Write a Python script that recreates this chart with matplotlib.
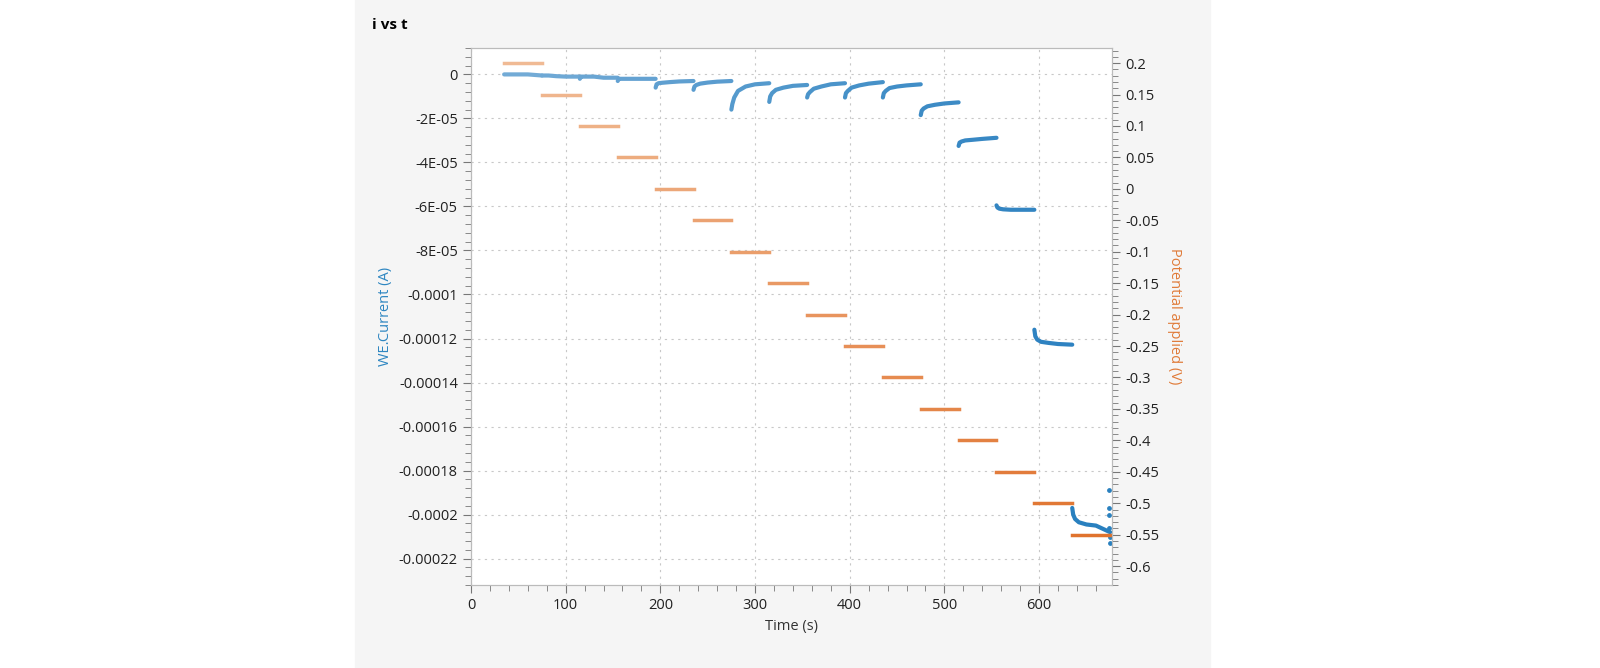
import matplotlib.pyplot as plt
import matplotlib.patches as mpatches
from matplotlib.ticker import MultipleLocator, FixedLocator
import numpy as np

# step start times (s), each step lasts 40 s
STEP_STARTS = [35, 75, 115, 155, 195, 235, 275, 315, 355, 395, 435, 475, 515, 555, 595, 635]
POTENTIALS = [0.2, 0.15, 0.1, 0.05, 0.0, -0.05, -0.1, -0.15, -0.2, -0.25, -0.3, -0.35, -0.4, -0.45, -0.5, -0.55]
# current samples (A) at offsets within each step
SAMPLE_OFFSETS = [0, 1, 3, 7, 15, 25, 40]
CURRENT_STEPS = [
    [0.0, 0.0, 0.0, 0.0, 0.0, 0.0, -0.05e-5],
    [-0.05e-5, -0.05e-5, -0.05e-5, -0.05e-5, -0.08e-5, -0.1e-5, -0.1e-5],
    [-0.2e-5, -0.1e-5, -0.1e-5, -0.1e-5, -0.1e-5, -0.15e-5, -0.15e-5],
    [-0.3e-5, -0.2e-5, -0.2e-5, -0.2e-5, -0.2e-5, -0.2e-5, -0.2e-5],
    [-0.6e-5, -0.45e-5, -0.4e-5, -0.38e-5, -0.35e-5, -0.32e-5, -0.3e-5],
    [-0.7e-5, -0.55e-5, -0.48e-5, -0.42e-5, -0.37e-5, -0.33e-5, -0.3e-5],
    [-1.6e-5, -1.35e-5, -1.05e-5, -0.75e-5, -0.55e-5, -0.45e-5, -0.4e-5],
    [-1.25e-5, -1.0e-5, -0.85e-5, -0.7e-5, -0.6e-5, -0.52e-5, -0.48e-5],
    [-1.05e-5, -0.9e-5, -0.8e-5, -0.65e-5, -0.55e-5, -0.45e-5, -0.4e-5],
    [-1.05e-5, -0.85e-5, -0.75e-5, -0.6e-5, -0.5e-5, -0.42e-5, -0.35e-5],
    [-1.05e-5, -0.85e-5, -0.75e-5, -0.62e-5, -0.55e-5, -0.5e-5, -0.45e-5],
    [-1.85e-5, -1.65e-5, -1.55e-5, -1.45e-5, -1.38e-5, -1.32e-5, -1.27e-5],
    [-3.25e-5, -3.1e-5, -3.05e-5, -3.0e-5, -2.97e-5, -2.93e-5, -2.88e-5],
    [-5.95e-5, -6.05e-5, -6.1e-5, -6.13e-5, -6.15e-5, -6.15e-5, -6.15e-5],
    [-1.16e-4, -1.19e-4, -1.205e-4, -1.215e-4, -1.22e-4, -1.225e-4, -1.228e-4],
    [-1.97e-4, -2.0e-4, -2.02e-4, -2.035e-4, -2.045e-4, -2.05e-4, -2.08e-4],
]
# scattered points at the end of the run
END_T = [674, 674, 674, 674, 675, 675]
END_I = [-1.89e-4, -1.97e-4, -2.0e-4, -2.06e-4, -2.1e-4, -2.13e-4]

LEFT_TICKS = [0, -2e-5, -4e-5, -6e-5, -8e-5, -1e-4, -1.2e-4, -1.4e-4, -1.6e-4, -1.8e-4, -2e-4, -2.2e-4]
LEFT_LABELS = ["0", "-2E-05", "-4E-05", "-6E-05", "-8E-05", "-0.0001", "-0.00012",
               "-0.00014", "-0.00016", "-0.00018", "-0.0002", "-0.00022"]
RIGHT_TICKS = [0.2, 0.15, 0.1, 0.05, 0.0, -0.05, -0.1, -0.15, -0.2, -0.25, -0.3, -0.35,
               -0.4, -0.45, -0.5, -0.55, -0.6]

plt.rcParams["font.family"] = "Open Sans"
fig = plt.figure(figsize=(16, 6.68), dpi=100)
fig.patches.append(mpatches.Rectangle((355 / 1600, 0), 855 / 1600, 1, transform=fig.transFigure,
                                      color="#f5f5f5", zorder=-5))
fig.text(372 / 1600, 1 - 25 / 668, "i vs t", fontsize=11, fontweight="bold", va="center")

ax = fig.add_axes([471 / 1600, 83 / 668, 641 / 1600, 537 / 668])
ax.set_facecolor("white")
ax2 = ax.twinx()

blue_a, blue_b = np.array([0.45, 0.67, 0.84]), np.array([0.16, 0.50, 0.75])
orange_a, orange_b = np.array([0.94, 0.73, 0.58]), np.array([0.88, 0.45, 0.18])
n = len(STEP_STARTS)
for k, t0 in enumerate(STEP_STARTS):
    f = k / (n - 1)
    t = [t0 + o for o in SAMPLE_OFFSETS]
    ax2.plot(t, [c * 0 for c in t], alpha=0)  # keep ax2 x range shared
    ax2.plot([t0, t0 + 40], [POTENTIALS[k]] * 2, color=orange_a + (orange_b - orange_a) * f,
             lw=2.5, zorder=2)
    ax.plot(t, CURRENT_STEPS[k], color=blue_a + (blue_b - blue_a) * f, lw=3,
            solid_capstyle="round", zorder=3)
ax.scatter(END_T, END_I, s=6, color=blue_b, zorder=3)

ax.set_xlim(0, 677)
ax.set_ylim(-2.32e-4, 1.2e-5)
ax2.set_ylim(-0.63, 0.224)
ax.set_yticks(LEFT_TICKS)
ax.set_yticklabels(LEFT_LABELS)
ax.yaxis.set_minor_locator(MultipleLocator(0.4e-5))
ax.xaxis.set_major_locator(MultipleLocator(100))
ax.xaxis.set_minor_locator(MultipleLocator(20))
ax2.yaxis.set_major_locator(FixedLocator(RIGHT_TICKS))
ax2.set_yticklabels([f"{v:g}" for v in RIGHT_TICKS])
ax2.yaxis.set_minor_locator(MultipleLocator(0.01))

ax.grid(True, linestyle=(0, (2, 4)), color="#c8c8c8", lw=0.8)
for a in (ax, ax2):
    for s in a.spines.values():
        s.set_color("#bbbbbb")
    a.tick_params(which="both", colors="#777777", labelcolor="#222222", labelsize=10.5)
    a.tick_params(which="major", length=6)
    a.tick_params(which="minor", length=4)

ax.set_xlabel("Time (s)", fontsize=10.5, color="#333333")
ax.set_ylabel("WE.Current (A)", fontsize=10.5, color="#2e86c1")
ax2.set_ylabel("Potential applied (V)", fontsize=10.5, color="#e07b39", rotation=270, labelpad=16)

fig.savefig("out.png", facecolor="white")
